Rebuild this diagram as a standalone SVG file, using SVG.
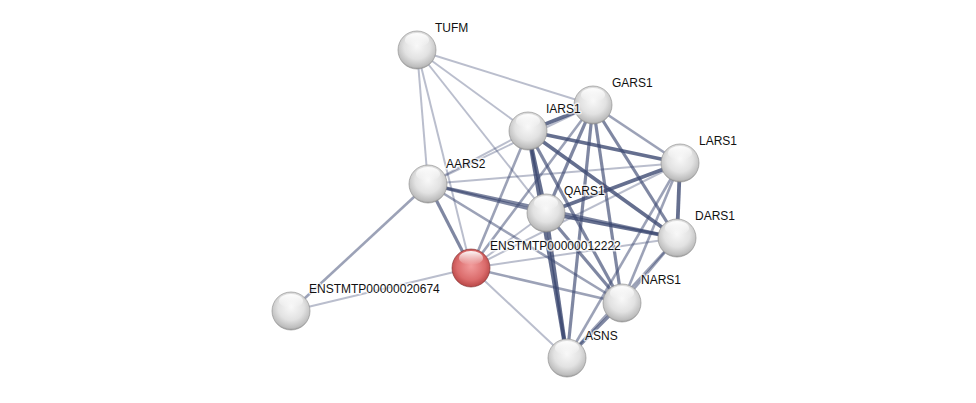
<svg xmlns="http://www.w3.org/2000/svg" width="976" height="403" viewBox="0 0 976 403">
<defs>
<radialGradient id="gw" cx="0.5" cy="0.4" r="0.62">
<stop offset="0" stop-color="#f8f8f8"/>
<stop offset="0.55" stop-color="#e2e2e2"/>
<stop offset="0.88" stop-color="#bdbdbd"/>
<stop offset="1" stop-color="#8c8c8c"/>
</radialGradient>
<radialGradient id="gr" cx="0.5" cy="0.45" r="0.62">
<stop offset="0" stop-color="#f29c9c"/>
<stop offset="0.6" stop-color="#db6c6c"/>
<stop offset="0.9" stop-color="#b74545"/>
<stop offset="1" stop-color="#8a2c2c"/>
</radialGradient>
<linearGradient id="hl" x1="0" y1="0" x2="0" y2="1">
<stop offset="0" stop-color="#fff" stop-opacity="0.95"/>
<stop offset="1" stop-color="#fff" stop-opacity="0"/>
</linearGradient>
</defs>
<style>
.e{stroke:#3a4670;fill:none;stroke-linecap:butt}
.l1{stroke-width:2;stroke-opacity:0.35}
.l2{stroke-width:2.6;stroke-opacity:0.5}
.l3{stroke-width:3.2;stroke-opacity:0.65}
.l4{stroke-width:3.8;stroke-opacity:0.78}
.n{stroke:#888;stroke-width:0.6}
.hl{fill:url(#hl)}
text{font-family:"Liberation Sans",Arial,sans-serif;font-size:12px;fill:#111;paint-order:stroke;stroke:#fff;stroke-width:3px;stroke-opacity:0.7;stroke-linejoin:round}
</style>
<rect width="976" height="403" fill="#fff"/>
<g id="connectors">
<line class="e l1" x1="417" y1="50" x2="593" y2="105"/>
<line class="e l1" x1="417" y1="50" x2="528" y2="131"/>
<line class="e l1" x1="417" y1="50" x2="546" y2="213"/>
<line class="e l1" x1="417" y1="50" x2="428" y2="184"/>
<line class="e l1" x1="417" y1="50" x2="471" y2="268"/>
<line class="e l2" x1="428" y1="184" x2="291" y2="311"/>
<line class="e l3" x1="428" y1="184" x2="471" y2="268"/>
<line class="e l1" x1="428" y1="184" x2="528" y2="131"/>
<line class="e l1" x1="428" y1="184" x2="593" y2="105"/>
<line class="e l1" x1="428" y1="184" x2="680" y2="163"/>
<line class="e l3" x1="428" y1="184" x2="546" y2="213"/>
<line class="e l3" x1="428" y1="184" x2="677" y2="238"/>
<line class="e l2" x1="428" y1="184" x2="622" y2="303"/>
<line class="e l1" x1="471" y1="268" x2="291" y2="311"/>
<line class="e l2" x1="471" y1="268" x2="528" y2="131"/>
<line class="e l2" x1="471" y1="268" x2="593" y2="105"/>
<line class="e l1" x1="471" y1="268" x2="546" y2="213"/>
<line class="e l1" x1="471" y1="268" x2="680" y2="163"/>
<line class="e l1" x1="471" y1="268" x2="677" y2="238"/>
<line class="e l2" x1="471" y1="268" x2="622" y2="303"/>
<line class="e l1" x1="471" y1="268" x2="567" y2="358"/>
<line class="e l4" x1="528" y1="131" x2="593" y2="105"/>
<line class="e l4" x1="528" y1="131" x2="680" y2="163"/>
<line class="e l4" x1="528" y1="131" x2="546" y2="213"/>
<line class="e l4" x1="528" y1="131" x2="677" y2="238"/>
<line class="e l3" x1="528" y1="131" x2="622" y2="303"/>
<line class="e l4" x1="528" y1="131" x2="567" y2="358"/>
<line class="e l2" x1="593" y1="105" x2="680" y2="163"/>
<line class="e l3" x1="593" y1="105" x2="546" y2="213"/>
<line class="e l3" x1="593" y1="105" x2="677" y2="238"/>
<line class="e l3" x1="593" y1="105" x2="622" y2="303"/>
<line class="e l3" x1="593" y1="105" x2="567" y2="358"/>
<line class="e l4" x1="680" y1="163" x2="546" y2="213"/>
<line class="e l4" x1="680" y1="163" x2="677" y2="238"/>
<line class="e l2" x1="680" y1="163" x2="622" y2="303"/>
<line class="e l2" x1="680" y1="163" x2="567" y2="358"/>
<line class="e l4" x1="546" y1="213" x2="677" y2="238"/>
<line class="e l3" x1="546" y1="213" x2="622" y2="303"/>
<line class="e l4" x1="546" y1="213" x2="567" y2="358"/>
<line class="e l2" x1="677" y1="238" x2="622" y2="303"/>
<line class="e l2" x1="677" y1="238" x2="567" y2="358"/>
<line class="e l3" x1="622" y1="303" x2="567" y2="358"/>
</g>
<g id="TUFM"><circle class="n" cx="417" cy="50" r="19" fill="url(#gw)"/><ellipse class="hl" cx="417" cy="40" rx="12" ry="7"/><text x="435" y="32">TUFM</text></g>
<g id="GARS1"><circle class="n" cx="593" cy="105" r="19" fill="url(#gw)"/><ellipse class="hl" cx="593" cy="95" rx="12" ry="7"/><text x="612" y="87">GARS1</text></g>
<g id="IARS1"><circle class="n" cx="528" cy="131" r="19" fill="url(#gw)"/><ellipse class="hl" cx="528" cy="121" rx="12" ry="7"/><text x="546" y="113">IARS1</text></g>
<g id="LARS1"><circle class="n" cx="680" cy="163" r="19" fill="url(#gw)"/><ellipse class="hl" cx="680" cy="153" rx="12" ry="7"/><text x="699" y="145">LARS1</text></g>
<g id="AARS2"><circle class="n" cx="428" cy="184" r="19" fill="url(#gw)"/><ellipse class="hl" cx="428" cy="174" rx="12" ry="7"/><text x="446" y="168">AARS2</text></g>
<g id="QARS1"><circle class="n" cx="546" cy="213" r="19" fill="url(#gw)"/><ellipse class="hl" cx="546" cy="203" rx="12" ry="7"/><text x="564" y="195">QARS1</text></g>
<g id="DARS1"><circle class="n" cx="677" cy="238" r="19" fill="url(#gw)"/><ellipse class="hl" cx="677" cy="228" rx="12" ry="7"/><text x="695" y="220">DARS1</text></g>
<g id="ENSTMTP00000012222"><circle cx="471" cy="268" r="19" fill="url(#gr)" stroke="#7a2a2a" stroke-width="0.6"/><ellipse class="hl" cx="471" cy="258" rx="12" ry="7"/><text x="490" y="250">ENSTMTP00000012222</text></g>
<g id="ENSTMTP00000020674"><circle class="n" cx="291" cy="311" r="19" fill="url(#gw)"/><ellipse class="hl" cx="291" cy="301" rx="12" ry="7"/><text x="309" y="293">ENSTMTP00000020674</text></g>
<g id="NARS1"><circle class="n" cx="622" cy="303" r="19" fill="url(#gw)"/><ellipse class="hl" cx="622" cy="293" rx="12" ry="7"/><text x="641" y="284">NARS1</text></g>
<g id="ASNS"><circle class="n" cx="567" cy="358" r="19" fill="url(#gw)"/><ellipse class="hl" cx="567" cy="348" rx="12" ry="7"/><text x="585" y="340">ASNS</text></g>
</svg>
